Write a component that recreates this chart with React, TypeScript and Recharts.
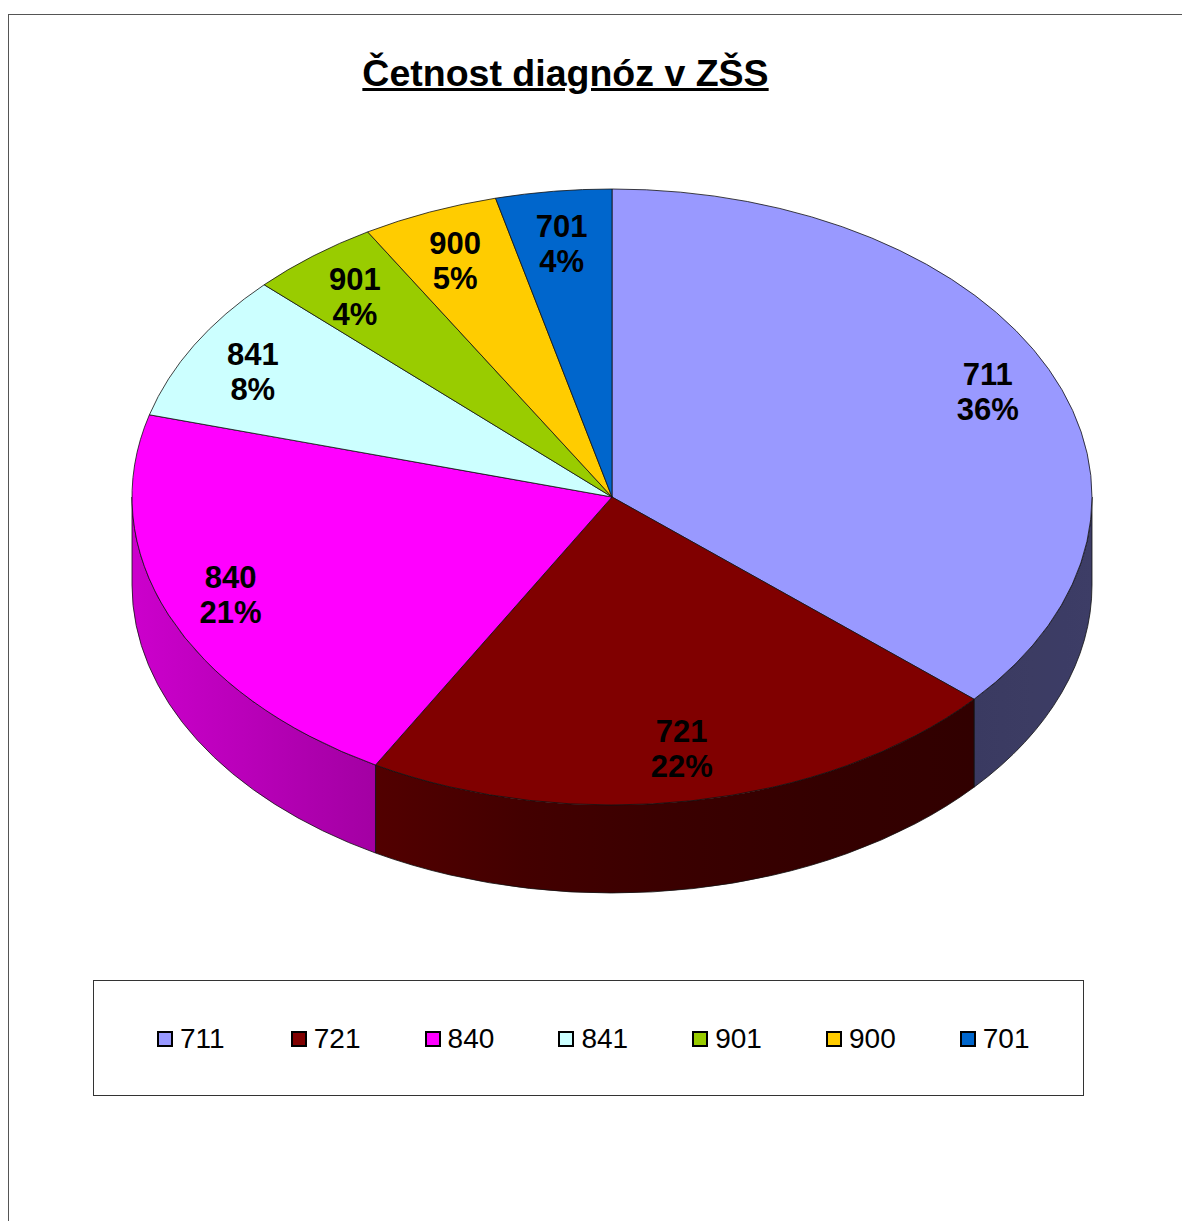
import { PieChart, Pie, Cell, Legend } from "recharts";

// Četnost diagnóz v ZŠS - podíly v %
const categories = ["711", "721", "840", "841", "901", "900", "701"];
const shares = [36.4, 21.8, 21.1, 7.8, 4.4, 4.6, 3.9];
const colors = ["#9999FF", "#800000", "#FF00FF", "#CCFFFF", "#99CC00", "#FFCC00", "#0066CC"];

const data = categories.map((name, i) => ({ name, value: shares[i] }));

const RAD = Math.PI / 180;
const TILT = 308 / 480; // vertical squash of the top ellipse
const DEPTH = 88;
const FONT = "'Liberation Sans', Arial, Helvetica, sans-serif";

// brightness of the side wall along x (light from the left)
const SHADE: [number, number][] = [
  [131, 0.8],
  [376, 0.64],
  [560, 0.5],
  [760, 0.42],
  [973, 0.38],
  [1092, 0.4],
];

function shadeAt(x: number) {
  if (x <= SHADE[0][0]) return SHADE[0][1];
  for (let i = 1; i < SHADE.length; i++) {
    const [x0, b0] = SHADE[i - 1];
    const [x1, b1] = SHADE[i];
    if (x <= x1) return b0 + ((x - x0) / (x1 - x0)) * (b1 - b0);
  }
  return SHADE[SHADE.length - 1][1];
}

function darken(hex: string, f: number) {
  const n = parseInt(hex.slice(1), 16);
  const r = Math.round(((n >> 16) & 255) * f);
  const g = Math.round(((n >> 8) & 255) * f);
  const b = Math.round((n & 255) * f);
  return `rgb(${r},${g},${b})`;
}

function Slice3D(props: any) {
  const { cx, cy, outerRadius, startAngle, endAngle, fill } = props;
  const name = props.name ?? props.payload?.name ?? "x";
  const rx = outerRadius;
  const ry = outerRadius * TILT;
  const pt = (a: number, dy = 0) => [cx + rx * Math.cos(a * RAD), cy - ry * Math.sin(a * RAD) + dy];
  const s = Math.max(startAngle, endAngle);
  const e = Math.min(startAngle, endAngle);

  const [sx, sy] = pt(s);
  const [ex, ey] = pt(e);
  const large = s - e > 180 ? 1 : 0;
  const top = `M${cx},${cy} L${sx},${sy} A${rx},${ry} 0 ${large} 1 ${ex},${ey} Z`;

  // front wall is visible for angles in the lower half (-180..0)
  const lo = Math.max(e, -180);
  const hi = Math.min(s, 0);
  let side = null;
  if (lo < hi) {
    const [hx, hy] = pt(hi);
    const [lx, ly] = pt(lo);
    const path = `M${hx},${hy} A${rx},${ry} 0 0 1 ${lx},${ly} L${lx},${ly + DEPTH} A${rx},${ry} 0 0 0 ${hx},${hy + DEPTH} Z`;
    const x1 = Math.min(lx, hx) - 1;
    const x2 = Math.max(lx, hx) + 1;
    const stops = [0, 0.25, 0.5, 0.75, 1];
    const id = `side-${name}`;
    side = (
      <g>
        <defs>
          <linearGradient id={id} gradientUnits="userSpaceOnUse" x1={x1} y1={0} x2={x2} y2={0}>
            {stops.map((t) => (
              <stop key={t} offset={t} stopColor={darken(fill, shadeAt(x1 + t * (x2 - x1)))} />
            ))}
          </linearGradient>
        </defs>
        <path d={path} fill={`url(#${id})`} stroke="#111" strokeWidth={0.8} />
      </g>
    );
  }

  return (
    <g>
      {side}
      <path d={top} fill={fill} stroke="#111" strokeWidth={0.8} strokeLinejoin="round" />
    </g>
  );
}

const renderLabel = (p: any) => {
  const { cx, cy, outerRadius, midAngle, name, percent } = p;
  const x = cx + outerRadius * 0.86 * Math.cos(midAngle * RAD);
  const y = cy - outerRadius * TILT * 0.83 * Math.sin(midAngle * RAD);
  return (
    <text
      x={x}
      y={y}
      textAnchor="middle"
      fill="#000"
      fontFamily={FONT}
      fontWeight="bold"
      fontSize={31}
    >
      <tspan x={x} y={y - 6.5}>{name}</tspan>
      <tspan x={x} y={y + 28.5}>{`${Math.round(percent * 100)}%`}</tspan>
    </text>
  );
};

const renderLegend = (props: any) => {
  const items = [...(props.payload || [])].sort(
    (a: any, b: any) => categories.indexOf(String(a.value)) - categories.indexOf(String(b.value))
  );
  return (
    <div
      style={{
        position: "relative",
        width: 991,
        height: 116,
        boxSizing: "border-box",
        border: "1px solid #333",
        background: "#fff",
        fontFamily: FONT,
      }}
    >
      {items.map((entry: any, i: number) => {
        const c = colors[categories.indexOf(String(entry.value))] || entry.color;
        return (
          <div
            key={`leg-${i}`}
            style={{
              position: "absolute",
              left: 63 + i * 133.8,
              top: 40,
              height: 36,
              display: "flex",
              alignItems: "center",
            }}
          >
            <span
              style={{
                display: "inline-block",
                width: 16,
                height: 16,
                boxSizing: "border-box",
                border: "2px solid #000",
                background: c,
                marginRight: 7,
              }}
            />
            <span style={{ fontSize: 28, lineHeight: "28px", color: "#000" }}>{entry.value}</span>
          </div>
        );
      })}
    </div>
  );
};

export default function App() {
  return (
    <div
      style={{
        position: "absolute",
        left: 0,
        top: 0,
        width: 1182,
        height: 1221,
        overflow: "hidden",
        background: "#fff",
      }}
    >
      <div
        style={{
          position: "absolute",
          left: 8,
          top: 14,
          width: 1300,
          height: 1300,
          border: "1px solid #555",
        }}
      />
      <div
        style={{
          position: "absolute",
          left: 0,
          top: 55,
          width: 1131,
          textAlign: "center",
          fontFamily: FONT,
          fontWeight: "bold",
          fontSize: 37.5,
          lineHeight: "37px",
          textDecoration: "underline",
          color: "#000",
        }}
      >
        Četnost diagnóz v ZŠS
      </div>
      <div style={{ position: "absolute", left: 0, top: 0 }}>
        <PieChart width={1182} height={1221} margin={{ top: 0, right: 0, bottom: 0, left: 0 }}>
          <Pie
            data={data}
            dataKey="value"
            nameKey="name"
            cx={612}
            cy={497}
            outerRadius={480}
            startAngle={90}
            endAngle={-270}
            shape={Slice3D}
            label={renderLabel}
            labelLine={false}
            isAnimationActive={false}
          >
            {data.map((entry, i) => (
              <Cell key={`cell-${entry.name}`} fill={colors[i]} />
            ))}
          </Pie>
          <Legend
            layout="horizontal"
            verticalAlign="middle"
            align="center"
            content={renderLegend}
            wrapperStyle={{ left: 93, top: 980, width: 991, height: 116 }}
          />
        </PieChart>
      </div>
    </div>
  );
}
